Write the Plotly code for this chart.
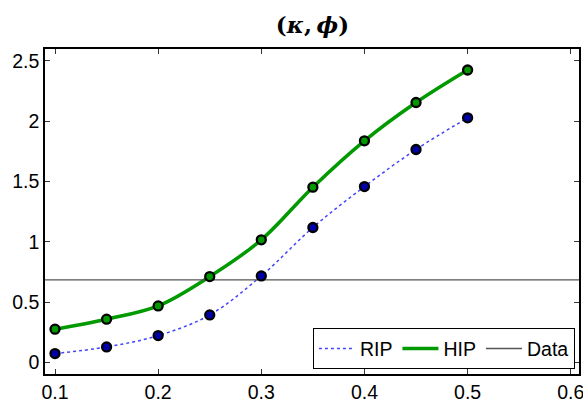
import plotly.graph_objects as go

x_vals = [0.1, 0.15, 0.2, 0.25, 0.3, 0.35, 0.4, 0.45, 0.5]
rip = [0.075, 0.13, 0.224, 0.395, 0.718, 1.119, 1.458, 1.765, 2.027]
hip = [0.277, 0.36, 0.47, 0.713, 1.017, 1.453, 1.837, 2.154, 2.423]
data_level = 0.685
x_range = [0.0903, 0.608]
y_range = [-0.094, 2.597]
x_ticks = [0.1, 0.2, 0.3, 0.4, 0.5, 0.6]
y_ticks = [0, 0.5, 1, 1.5, 2, 2.5]
y_tick_labels = ["0", "0.5", "1", "1.5", "2", "2.5"]

fig = go.Figure()
# lines (legend entries)
fig.add_trace(go.Scatter(
    x=x_vals, y=rip, name="RIP", mode="lines",
    line=dict(color="#4444ff", width=1.5, dash="dot", shape="spline"),
))
fig.add_trace(go.Scatter(
    x=x_vals, y=hip, name="HIP", mode="lines",
    line=dict(color="#009900", width=3.5, shape="spline"),
))
fig.add_trace(go.Scatter(
    x=x_range, y=[data_level, data_level], name="Data", mode="lines",
    line=dict(color="#555555", width=1.3),
))
# markers (no legend)
fig.add_trace(go.Scatter(
    x=x_vals, y=rip, mode="markers", showlegend=False,
    marker=dict(size=9, color="#0000aa", line=dict(color="black", width=2.3)),
))
fig.add_trace(go.Scatter(
    x=x_vals, y=hip, mode="markers", showlegend=False,
    marker=dict(size=9, color="#009900", line=dict(color="black", width=2.3)),
))

axis_common = dict(
    automargin=False,
    showgrid=False, zeroline=False, showline=True, linecolor="black", linewidth=1.5,
    mirror="allticks", ticks="inside", ticklen=5, tickcolor="#333333",
    tickfont=dict(family="Arial", size=19.5, color="black"),
    ticklabeloverflow="allow",
)
fig.update_xaxes(range=x_range, tickvals=x_ticks, ticktext=[str(v) for v in x_ticks], **axis_common)
fig.update_yaxes(range=y_range, tickvals=y_ticks, ticktext=y_tick_labels, **axis_common)

fig.update_layout(
    template="none",
    width=583, height=400,
    margin=dict(l=45, r=4, t=49, b=26, autoexpand=False),
    paper_bgcolor="white", plot_bgcolor="white",
    title=dict(text="<b>(<i>κ</i>,\u2009<i>ϕ</i>)</b>", x=312.5 / 583, xanchor="center", y=1 - 25 / 400, yanchor="middle",
               font=dict(family="DejaVu Serif", size=23, color="black")),
    showlegend=True,
    legend=dict(orientation="h", x=0.992, xanchor="right", y=0.015, yanchor="bottom",
                bordercolor="black", borderwidth=1.2, bgcolor="white",
                font=dict(family="Arial", size=19.5, color="black"),
                itemwidth=36, tracegroupgap=0),
)

fig.write_html("out.html", config={"displayModeBar": False},
               post_script="document.body.style.margin='0px';document.body.style.overflow='hidden';")
